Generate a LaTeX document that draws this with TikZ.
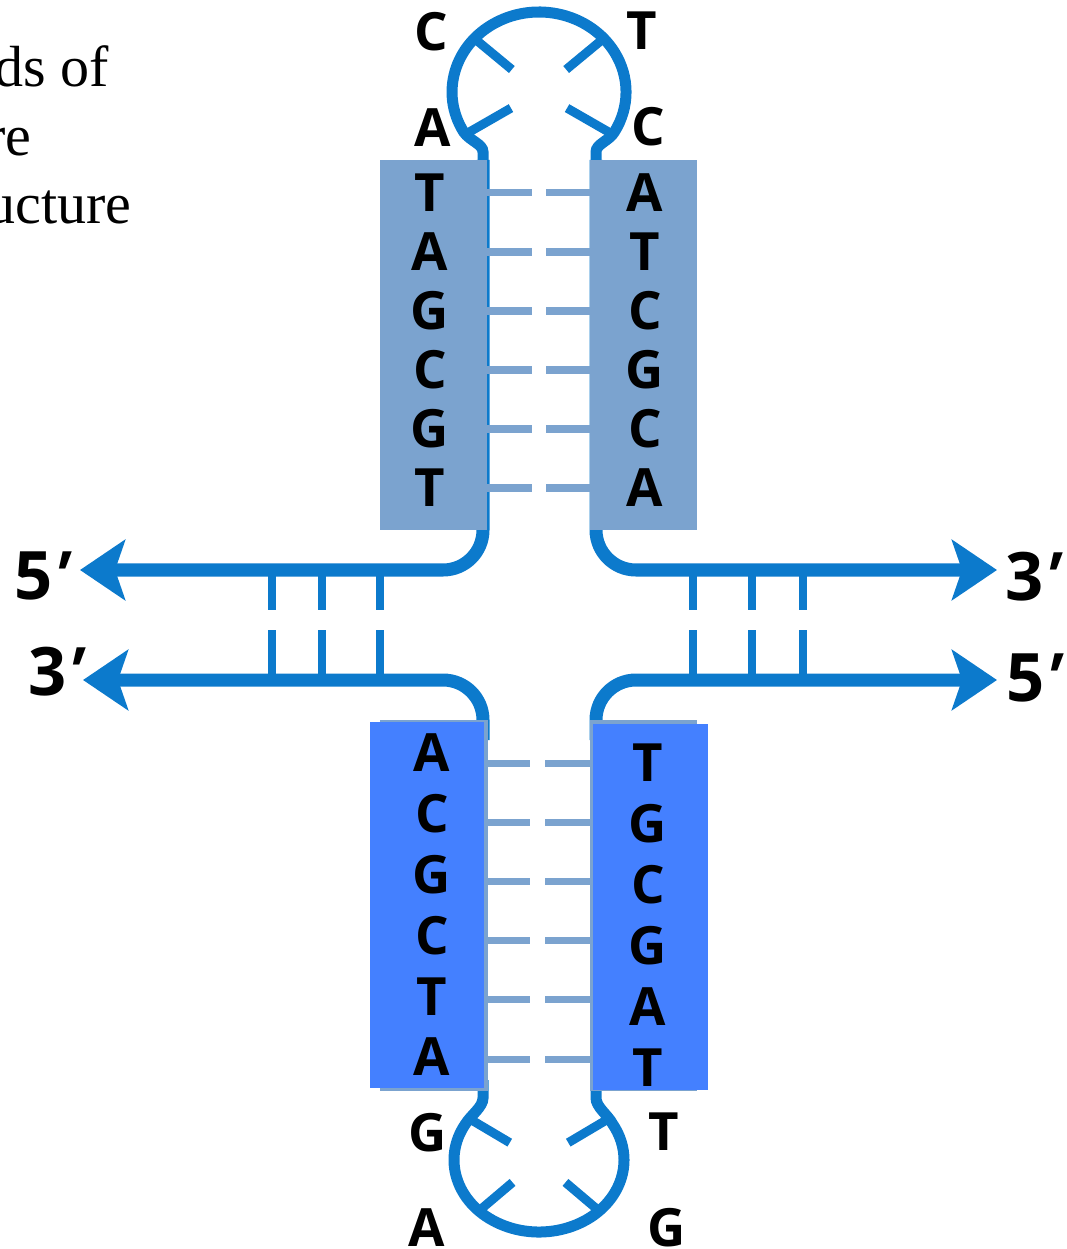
\documentclass[tikz,border=0pt]{standalone}
\usepackage{fontspec}
\setmainfont{Liberation Serif}
\newfontfamily\letrafont{Open Sans}
\newfontfamily\primafont{Open Sans}[FakeSlant=0.3]
\usepackage{tikz}
\usetikzlibrary{arrows.meta}
\definecolor{AzulCadena}{RGB}{12,122,204}
\definecolor{AzulTallo}{RGB}{123,163,207}
\definecolor{AzulVivo}{RGB}{68,128,255}
\tikzset{
  cadena/.style={AzulCadena,line width=0.13cm},
  lazo/.style={AzulCadena,line width=0.11cm},
  enlace/.style={AzulTallo,line width=0.07cm},
  nucleo/.style={font=\letrafont\bfseries\fontsize{15}{15}\selectfont,inner sep=0pt},
  extremo/.style={font=\letrafont\bfseries\fontsize{19}{19}\selectfont,inner sep=0pt},
  leyenda/.style={font=\fontsize{16.5}{19}\selectfont,inner sep=0pt,anchor=base east}
}
\newcommand{\prima}{\kern-0.12em{\primafont\bfseries\char"27}}

\begin{document}
\begin{tikzpicture}[x=0.01cm,y=-0.01cm,>={Stealth[length=0.45cm,width=0.6cm,inset=0.1cm]}]
  \clip (0,0) rectangle (1066,1249);
  \node[leyenda] (ley1) at (110,87) {ds of};
  \node[leyenda] (ley2) at (32,156) {re};
  \node[leyenda] (ley3) at (132,224) {ucture};

  \draw[cadena,rounded corners=0.4cm,->] (483,160) -- (483,570) -- (80,570);
  \draw[cadena,rounded corners=0.4cm,->] (596,160) -- (596,570) -- (997,570);
  \draw[cadena,rounded corners=0.4cm,->] (483,740) -- (483,680) -- (83,680);
  \draw[cadena,rounded corners=0.4cm,->] (596,740) -- (596,680) -- (997,680);
  \foreach \x in {272,322,380,693,752,803} {
    \draw[AzulCadena,line width=0.085cm] (\x,570) -- (\x,610);
    \draw[AzulCadena,line width=0.085cm] (\x,630) -- (\x,680);
  }

  \draw[lazo] (483,165) -- (483,152) .. controls (483,144) and (470,141) .. (463.7,132)
    arc[start angle=150,end angle=390,x radius=87,y radius=80]
    .. controls (609,141) and (596,144) .. (596,152) -- (596,165);
  \foreach \a/\f in {222/0.42,318/0.42,148/0.38,32/0.38}
    \draw[AzulCadena,line width=0.09cm] ({539+87*cos(\a)},{92+80*sin(\a)}) -- ({539+87*\f*cos(\a)},{92+80*\f*sin(\a)});

  \draw[lazo] (483,1080) -- (483,1098) .. controls (483,1107) and (471,1115) .. (465.4,1124)
    arc[start angle=210,end angle=-30,x radius=85,y radius=72]
    .. controls (608,1115) and (596,1107) .. (596,1098) -- (596,1080);
  \foreach \a/\f in {215/0.42,325/0.42,135/0.44,45/0.44}
    \draw[AzulCadena,line width=0.09cm] ({539+85*cos(\a)},{1160+72*sin(\a)}) -- ({539+85*\f*cos(\a)},{1160+72*\f*sin(\a)});

  \fill[AzulTallo] (380,160) rectangle (487,530);
  \fill[AzulTallo] (590,160) rectangle (697,530);
  \fill[AzulTallo] (380,720) rectangle (488,1091);
  \fill[AzulTallo] (590,720) rectangle (697,1091);
  \fill[AzulVivo] (370,722) rectangle (484,1088);
  \fill[AzulVivo] (593,724) rectangle (708,1090);

  \foreach \i in {0,...,5} {
    \draw[enlace] (487,{193+59*\i}) -- (532,{193+59*\i});
    \draw[enlace] (546,{193+59*\i}) -- (590,{193+59*\i});
    \draw[enlace] (484,{763+59.2*\i}) -- (530,{763+59.2*\i});
    \draw[enlace] (545,{763+59.2*\i}) -- (592,{763+59.2*\i});
  }

  \node[nucleo] (c1) at (431,32) {C};
  \node[nucleo] (t1) at (642,31) {T};
  \node[nucleo] (a1) at (433,128) {A};
  \node[nucleo] (c2) at (648,127) {C};
  \foreach \b [count=\i] in {T,A,G,C,G,T}
    \node[nucleo] (si\i) at (430,{193+59*(\i-1)}) {\b};
  \foreach \b [count=\i] in {A,T,C,G,C,A}
    \node[nucleo] (sd\i) at (645,{193+59*(\i-1)}) {\b};
  \foreach \b [count=\i] in {A,C,G,C,T,A}
    \node[nucleo] (ii\i) at (432,{753+60.8*(\i-1)}) {\b};
  \foreach \b [count=\i] in {T,G,C,G,A,T}
    \node[nucleo] (id\i) at (648,{763+61*(\i-1)}) {\b};
  \node[nucleo] (g1) at (428,1133) {G};
  \node[nucleo] (t2) at (664,1132) {T};
  \node[nucleo] (a2) at (427,1228) {A};
  \node[nucleo] (g2) at (667,1228) {G};

  \node[extremo,anchor=east] (e5s) at (63,576) {5\prima};
  \node[extremo,anchor=west] (e3s) at (1005,577) {3\prima};
  \node[extremo,anchor=east] (e3i) at (77,672) {3\prima};
  \node[extremo,anchor=west] (e5i) at (1006,678) {5\prima};
\end{tikzpicture}
\end{document}
